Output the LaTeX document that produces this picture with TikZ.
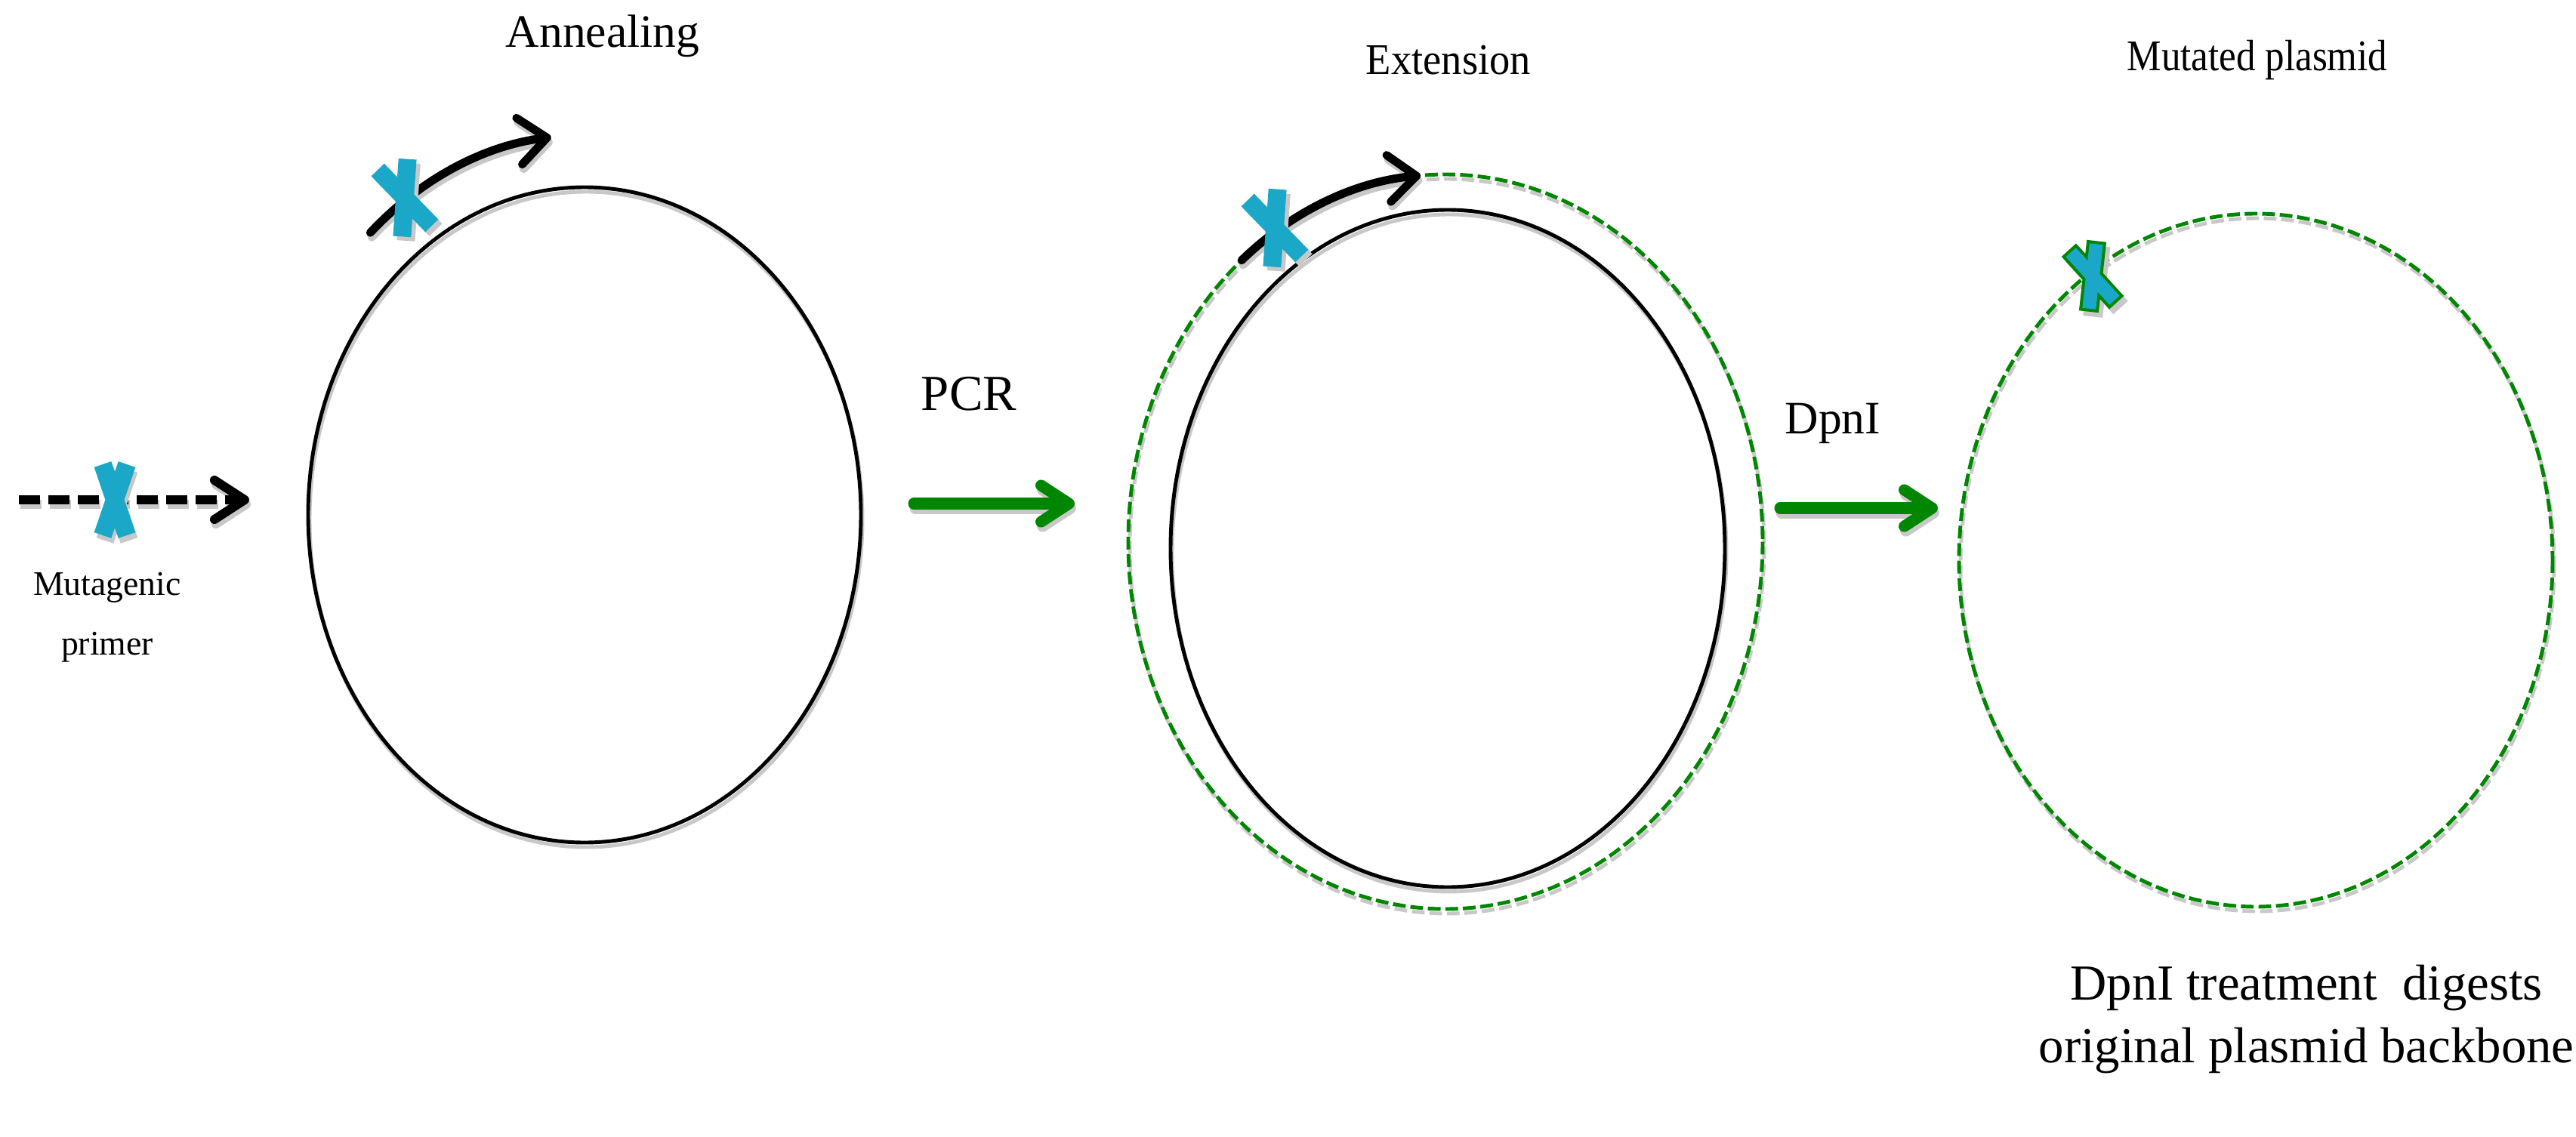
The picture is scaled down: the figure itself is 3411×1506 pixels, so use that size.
\documentclass[tikz,border=0pt]{standalone}
\usepackage{fontspec}
\usepackage{graphicx}
\IfFontExistsTF{LiberationSerif-Regular.ttf}{\setmainfont{LiberationSerif-Regular.ttf}}{\setmainfont{Liberation Serif}}
\usetikzlibrary{arrows.meta}
\definecolor{pgreen}{RGB}{0,134,0}
\definecolor{pcyan}{RGB}{27,168,200}
\definecolor{shad}{RGB}{200,200,200}
\tikzset{
  plasmid/.style={draw=black, line width=1.4pt},
  newdna/.style={draw=pgreen, line width=1.4pt, dash pattern=on 4.8pt off 1.8pt},
  sh/.style={transform canvas={shift={(2,6)}}, draw=shad},
  primerarc/.style={draw=black, line width=3.1pt, line cap=round,
    -{Straight Barb[length=10.5pt,width=17.6pt,line cap=round,line join=round]}},
  primerdash/.style={draw=black, line width=3.4pt, dash pattern=on 8pt off 3.1pt,
    -{Straight Barb[length=11.4pt,width=14.8pt,line cap=round,line join=round]}},
  steparrow/.style={draw=pgreen, line width=4.27pt, line cap=round,
    -{Straight Barb[length=10.5pt,width=13.7pt,line cap=round,line join=round]}},
  lab/.style={font=\rmfamily\fontsize{17.5}{20}\selectfont, inner sep=0pt},
  smalllab/.style={font=\rmfamily\fontsize{13}{22.5}\selectfont, inner sep=0pt, align=center},
  notelab/.style={font=\rmfamily\fontsize{19}{23.6}\selectfont, inner sep=0pt, align=center},
  pics/xmark/.style={code={
    \draw[line width=6.8pt, draw=shad, shift={(3,7)}] (-#1,-47) -- (#1,47) (#1,-47) -- (-#1,47);
    \draw[line width=6.8pt, draw=pcyan] (-#1,-47) -- (#1,47) (#1,-47) -- (-#1,47);
  }},
  pics/xmarkg/.style={code={
    \draw[line width=7.4pt, draw=shad, line cap=rect, shift={(3,8)}] (-14,-31) -- (14,31) (14,-31) -- (-14,31);
    \draw[line width=7.4pt, draw=pgreen, line cap=rect] (-14,-31) -- (14,31) (14,-31) -- (-14,31);
    \draw[line width=5.1pt, draw=pcyan, line cap=rect] (-14,-31) -- (14,31) (14,-31) -- (-14,31);
  }}
}
\newcommand\ringA[1]{\draw[#1] (774,682) ellipse[x radius=366, y radius=434];}
\newcommand\ringB[1]{\draw[#1] (1917,726.5) ellipse[x radius=367, y radius=448.5];}
\newcommand\ringBg[1]{\draw[#1] (1914,717.5) ellipse[x radius=420, y radius=486.5];}
\newcommand\ringC[1]{\draw[#1] (2987,742) ellipse[x radius=393, y radius=459];}
\newcommand\primerA[1]{\draw[#1] (774,682) ++(-132:424 and 503) arc[start angle=-132, end angle=-96, x radius=424, y radius=503];}
\newcommand\primerB[1]{\draw[#1] (1914,717.5) ++(-130:420 and 486.5) arc[start angle=-130, end angle=-94.5, x radius=420, y radius=486.5];}
\begin{document}
\begin{tikzpicture}[x=0.01cm, y=-0.01cm]
\useasboundingbox (0,0) rectangle (3411,1506);

% named end points of connectors
\coordinate (mpS) at (25,662);
\coordinate (mpE) at (330,662);
\coordinate (pcrS) at (1210,667);
\coordinate (pcrE) at (1423,667);
\coordinate (dpnS) at (2357,673);
\coordinate (dpnE) at (2566,673);

% shadows
\ringA{plasmid, sh}
\ringB{plasmid, sh}
\ringBg{newdna, sh}
\ringC{newdna, sh}
\primerA{primerarc, sh}
\primerB{primerarc, sh}
\draw[primerdash, sh] (mpS) -- (mpE);
\draw[steparrow, sh] (pcrS) -- (pcrE);
\draw[steparrow, sh] (dpnS) -- (dpnE);

% plasmids
\ringA{plasmid}
\ringB{plasmid}
\ringBg{newdna}
\ringC{newdna}

% primers
\primerA{primerarc}
\primerB{primerarc}
\draw[primerdash] (mpS) -- (mpE);

% step arrows
\draw[steparrow] (pcrS) -- (pcrE);
\draw[steparrow] (dpnS) -- (dpnE);

% mutation marks
\pic at (152,662) {xmark=16};
\pic[rotate=20] at (536,262) {xmark=21};
\pic[rotate=20] at (1688,302) {xmark=21};
\pic[rotate=18] at (2771,366) {xmarkg};

% labels
\node[lab] (ann) at (798,48) {Annealing};
\node[lab, font=\rmfamily\fontsize{16.5}{20}\selectfont] (ext) at (1918,80) {\scalebox{0.94}[1]{Extension}};
\node[lab, font=\rmfamily\fontsize{16.5}{20}\selectfont] (mut) at (2989,80) {\scalebox{0.88}[1]{Mutated plasmid}};
\node[lab, font=\rmfamily\fontsize{19}{20}\selectfont] (pcr) at (1283,522) {PCR};
\node[lab] (dpn) at (2427,561) {DpnI};
\node[smalllab] (mp) at (142,818) {Mutagenic\\primer};
\node[notelab] (note) at (3054,1350) {DpnI treatment\ \ digests\\original plasmid backbone};
\end{tikzpicture}
\end{document}
